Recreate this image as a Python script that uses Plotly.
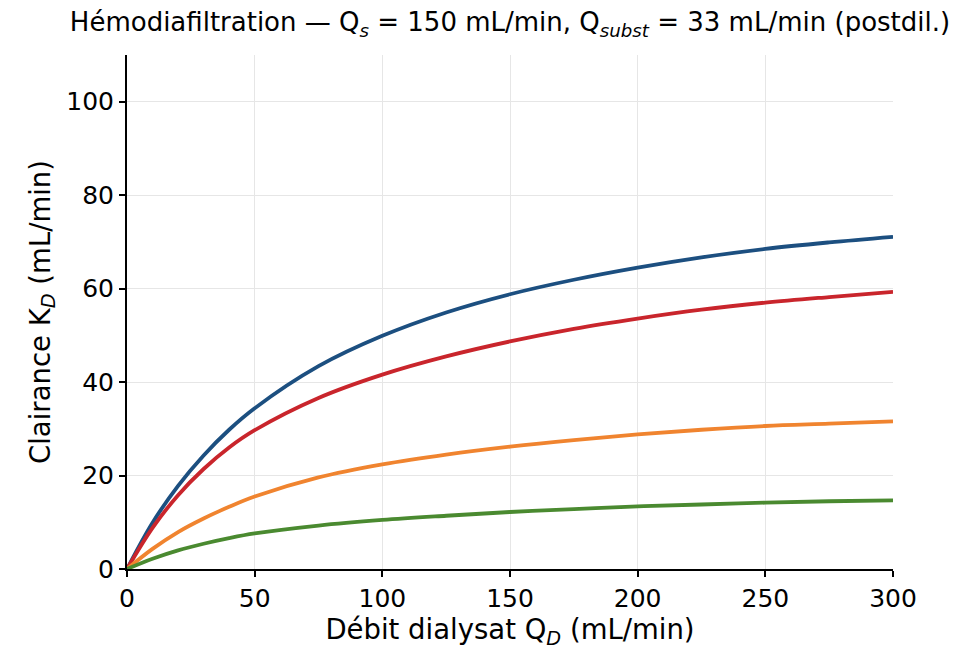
import plotly.graph_objects as go

qd = [0, 10, 20, 30, 40, 50, 75, 100, 125, 150, 175, 200, 225, 250, 275, 300]
k_blue = [0, 9.9, 17.8, 24.3, 29.8, 34.4, 43.4, 49.9, 54.9, 58.8, 61.9, 64.5, 66.7, 68.5, 69.9, 71.1]
k_red = [0, 8.8, 15.8, 21.4, 26.0, 29.7, 36.6, 41.6, 45.5, 48.7, 51.4, 53.6, 55.5, 57.0, 58.2, 59.3]
k_orange = [0, 4.3, 7.9, 10.8, 13.3, 15.5, 19.6, 22.4, 24.5, 26.2, 27.6, 28.8, 29.8, 30.6, 31.1, 31.6]
k_green = [0, 2.2, 4.0, 5.4, 6.6, 7.6, 9.3, 10.5, 11.4, 12.2, 12.8, 13.4, 13.8, 14.2, 14.5, 14.7]

series = [
    (k_blue, "#1c4f80"),
    (k_red, "#c9252c"),
    (k_orange, "#f0842f"),
    (k_green, "#4a8a30"),
]

fig = go.Figure()
for ys, col in series:
    fig.add_trace(go.Scatter(x=qd, y=ys, mode="lines",
                             line=dict(color=col, width=3.8, shape="spline", smoothing=1.0),
                             showlegend=False))

font = "DejaVu Sans, Liberation Sans, sans-serif"
fig.update_layout(
    width=964, height=643,
    margin=dict(l=119, r=79, t=47, b=82, autoexpand=False),
    paper_bgcolor="white", plot_bgcolor="white",
    font=dict(family=font, size=25, color="black"),
    title=dict(text="Hémodiafiltration — Q<sub><i>s</i></sub> = 150 mL/min, Q<sub><i>subst</i></sub> = 33 mL/min (postdil.)",
               xref="paper", x=0.5, xanchor="center", yref="container", y=0.978, yanchor="middle",
               font=dict(size=26)),
    showlegend=False,
)
fig.update_xaxes(range=[0, 300], tickvals=[0, 50, 100, 150, 200, 250, 300],
                 showline=True, linecolor="black", linewidth=2,
                 ticks="outside", ticklen=6, tickwidth=1.5, tickcolor="black",
                 showgrid=True, gridcolor="#e6e6e6", gridwidth=1, zeroline=False,
                 automargin=False,
                 title=dict(text="Débit dialysat Q<sub><i>D</i></sub> (mL/min)", standoff=8, font=dict(size=27.5)),
                 tickfont=dict(size=25))
fig.update_yaxes(range=[0, 110], tickvals=[0, 20, 40, 60, 80, 100],
                 showline=True, linecolor="black", linewidth=2,
                 ticks="outside", ticklen=6, tickwidth=1.5, tickcolor="black",
                 showgrid=True, gridcolor="#e6e6e6", gridwidth=1, zeroline=False,
                 automargin=False,
                 title=dict(text="Clairance K<sub><i>D</i></sub> (mL/min)", standoff=8, font=dict(size=27.5)),
                 tickfont=dict(size=25))

fig.write_html("out.html")
